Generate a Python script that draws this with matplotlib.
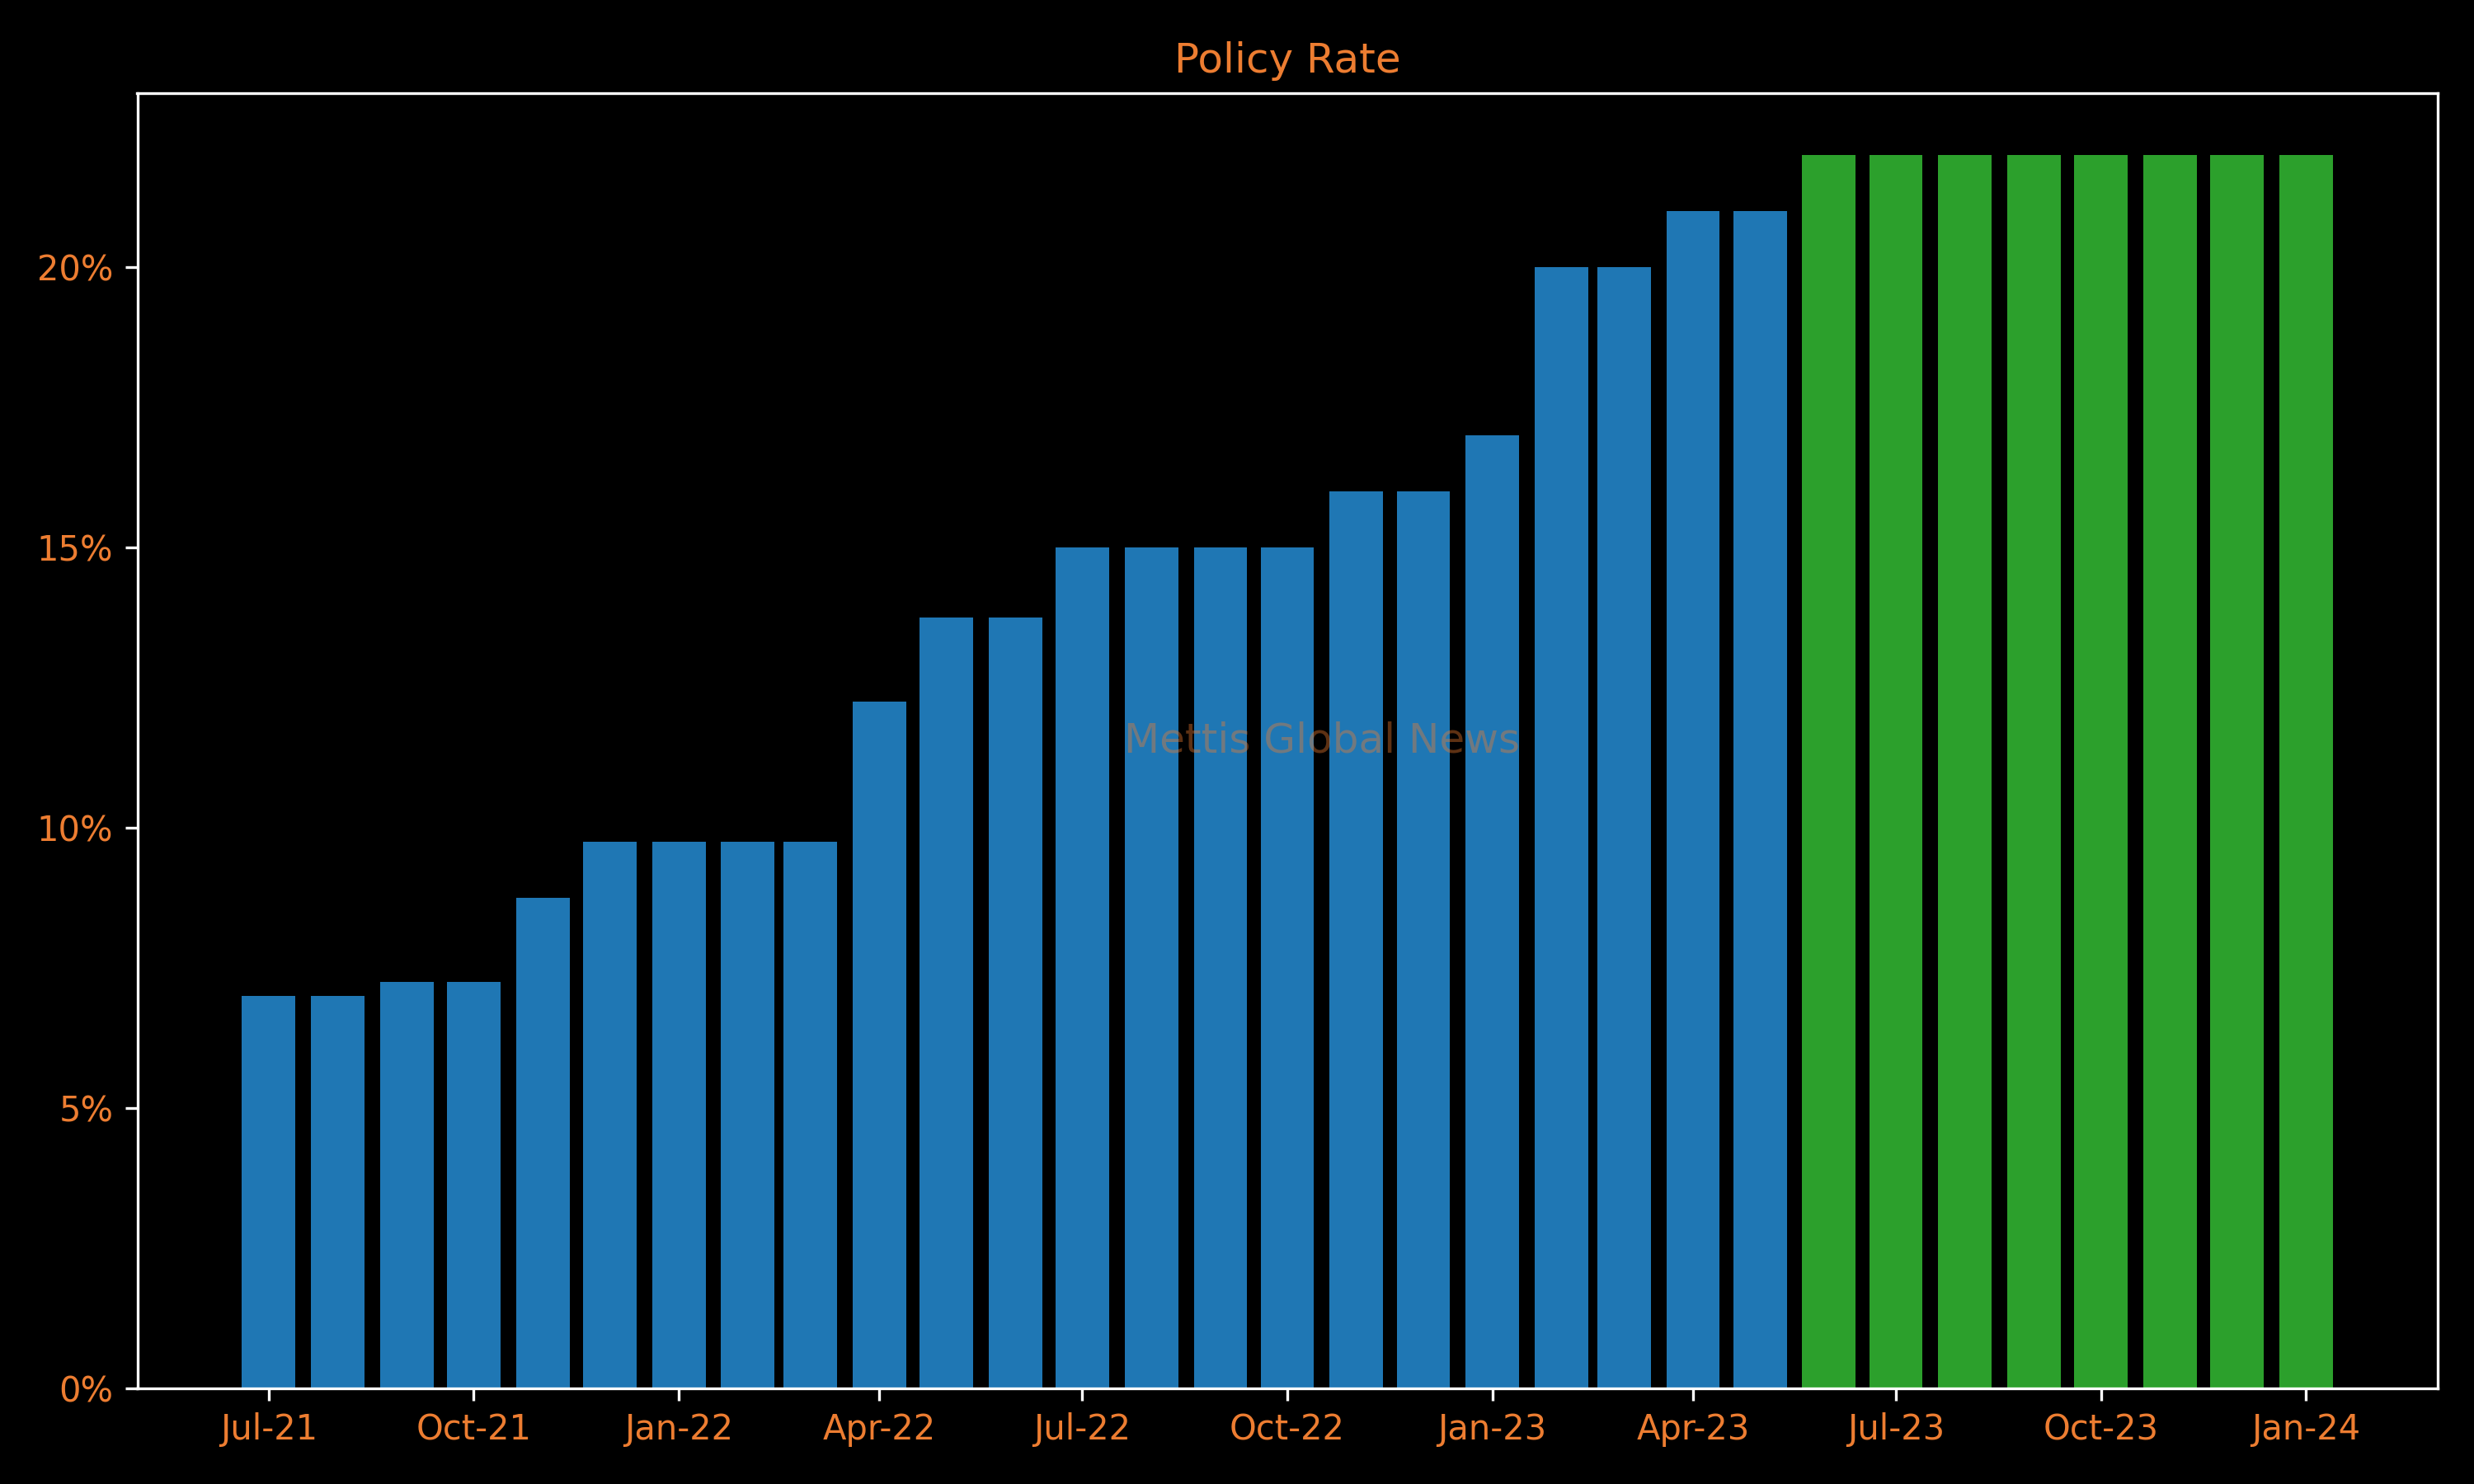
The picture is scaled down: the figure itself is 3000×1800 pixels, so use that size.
import matplotlib
matplotlib.use("Agg")
import matplotlib.pyplot as plt
import matplotlib.dates as mdates
import matplotlib.ticker as mticker
import pandas as pd

ORANGE = "#ED7D31"

months = pd.date_range("2021-07-01", "2024-01-01", freq="MS")
rates = [7.0, 7.0, 7.25, 7.25, 8.75, 9.75, 9.75, 9.75, 9.75, 12.25, 13.75, 13.75,
         15.0, 15.0, 15.0, 15.0, 16.0, 16.0, 17.0, 20.0, 20.0, 21.0, 21.0,
         22.0, 22.0, 22.0, 22.0, 22.0, 22.0, 22.0, 22.0]
is_forecast = [False] * 23 + [True] * 8
title = "Policy Rate"
watermark = "Mettis Global News"

colors = ["#2ca02c" if f else "#1f77b4" for f in is_forecast]

fig = plt.figure(figsize=(10, 6), dpi=300, facecolor="black")
ax = fig.add_axes([0.0555, 0.0644, 0.9297, 0.8726])
ax.set_facecolor("black")
ax.bar(months, rates, width=24, color=colors)

ax.xaxis.set_major_locator(mdates.MonthLocator(bymonth=[1, 4, 7, 10]))
ax.xaxis.set_major_formatter(mdates.DateFormatter("%b-%y"))
ax.yaxis.set_major_formatter(mticker.FuncFormatter(lambda v, p: f"{v:.0f}%"))
ax.yaxis.set_major_locator(mticker.MultipleLocator(5))

for s in ax.spines.values():
    s.set_color("white")
ax.tick_params(colors="white", labelcolor=ORANGE, labelsize=10)
ax.set_title(title, color=ORANGE, fontsize=12, pad=6)
ax.text(0.515, 0.5, watermark, transform=ax.transAxes, ha="center", va="center",
        color=ORANGE, alpha=0.4, fontsize=12)

fig.savefig("out.png", dpi=300, facecolor="black")
